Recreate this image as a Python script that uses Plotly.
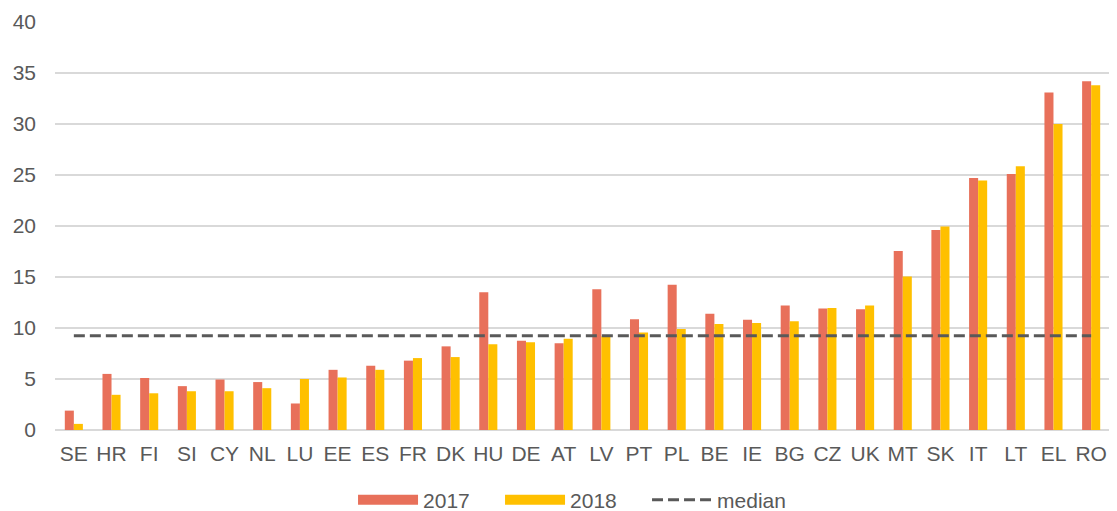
import plotly.graph_objects as go

countries = ["SE","HR","FI","SI","CY","NL","LU","EE","ES","FR","DK","HU","DE","AT","LV","PT","PL","BE","IE","BG","CZ","UK","MT","SK","IT","LT","EL","RO"]
v2017 = [1.9,5.5,5.1,4.3,4.95,4.7,2.6,5.9,6.3,6.8,8.2,13.5,8.75,8.5,13.8,10.85,14.25,11.4,10.8,12.2,11.9,11.85,17.55,19.6,24.7,25.1,33.1,34.2]
v2018 = [0.6,3.45,3.6,3.8,3.8,4.1,5.0,5.15,5.9,7.05,7.15,8.4,8.6,8.95,9.2,9.55,9.9,10.4,10.5,10.65,11.95,12.2,15.05,19.95,24.45,25.85,30.0,33.8]
median_value = 9.25
series_names = ["2017", "2018", "median"]

c2017 = "#E8705A"
c2018 = "#FFC000"
cmed = "#595959"
txt = "#595959"

fig = go.Figure()
fig.add_trace(go.Bar(x=countries, y=v2017, marker=dict(color=c2017, line=dict(width=0)),
                     name=series_names[0], showlegend=False))
fig.add_trace(go.Bar(x=countries, y=v2018, marker=dict(color=c2018, line=dict(width=0)),
                     name=series_names[1], showlegend=False))
fig.add_trace(go.Scatter(x=countries, y=[median_value]*len(countries), mode="lines",
                         line=dict(color=cmed, width=3, dash="11px,5px"),
                         name=series_names[2], showlegend=False))
# legend swatches
fig.add_trace(go.Scatter(x=[None], y=[None], mode="lines", line=dict(color=c2017, width=10), name=series_names[0]))
fig.add_trace(go.Scatter(x=[None], y=[None], mode="lines", line=dict(color=c2018, width=10), name=series_names[1]))
fig.add_trace(go.Scatter(x=[None], y=[None], mode="lines", line=dict(color=cmed, width=3, dash="11px,5px"), name=series_names[2]))

fig.update_layout(
    width=1109, height=503,
    margin=dict(l=47, r=7, t=14, b=81, autoexpand=False),
    paper_bgcolor="white", plot_bgcolor="white",
    barmode="group", bargap=0.52, bargroupgap=0,
    font=dict(family="Liberation Sans, Arial, sans-serif", size=21, color=txt),
    legend=dict(orientation="h", x=0.4915, xanchor="center", y=-0.1716, yanchor="middle",
                itemwidth=60, entrywidth=72, font=dict(size=21, color=txt), traceorder="normal"),
    xaxis=dict(showgrid=False, showline=False, ticks="", automargin=False,
               tickfont=dict(size=21, color=txt), ticklabelstandoff=9),
    yaxis=dict(range=[0, 40], dtick=5, showgrid=True, gridcolor="#D9D9D9", gridwidth=1.5,
               zeroline=True, zerolinecolor="#D9D9D9", zerolinewidth=1.5, automargin=False,
               ticks="", tickfont=dict(size=21, color=txt), ticklabelstandoff=18),
)

fig.write_html("out.html")
